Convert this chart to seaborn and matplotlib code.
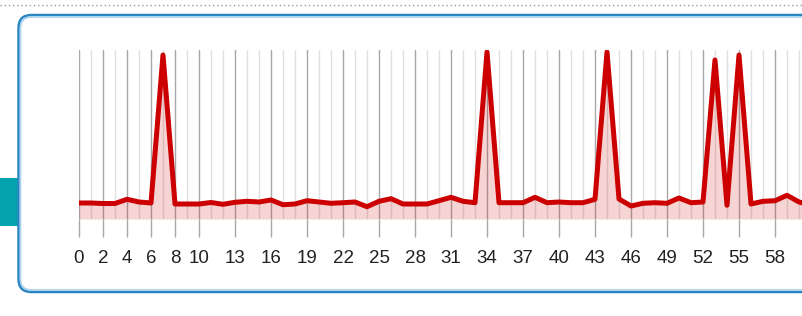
import matplotlib
matplotlib.use("Agg")
import matplotlib.pyplot as plt
from matplotlib.patches import FancyBboxPatch, Rectangle
from matplotlib.lines import Line2D
import seaborn as sns
import pandas as pd

# ---- data ----
x_index = list(range(62))
values = [16, 16, 15.5, 15.5, 19.7, 17, 16, 164, 15, 15,
          15, 16.5, 14.7, 16.7, 17.7, 17, 19, 14.3, 15, 18.3,
          17, 15.7, 16.3, 17, 12.3, 17.7, 20.3, 15, 15, 15,
          18.3, 21.7, 17.7, 16.3, 167, 16.3, 16.3, 16.3, 21.7, 16.3,
          17, 16.3, 16.3, 19.7, 167, 20, 13, 15.7, 16.3, 15.7,
          21, 16.3, 17, 159, 13.7, 164, 15, 17.7, 18.3, 23.7,
          17, 14]
tick_values = [0, 2, 4, 6, 8, 10, 13, 16, 19, 22, 25, 28, 31, 34, 37, 40,
               43, 46, 49, 52, 55, 58, 61]
tick_labels = [str(t) for t in tick_values]

df = pd.DataFrame({"x": x_index, "y": values})

sns.set_style("white")
plt.rcParams["font.family"] = ["Liberation Sans", "DejaVu Sans"]

W, H = 803, 316
fig = plt.figure(figsize=(W / 100, H / 100), dpi=100)

# axes placement: x=0 at 79px, 12px per unit; y=0 at 219px, top at 50px
x0_px, step = 79, 12.0
xmax = 62
left = x0_px / W
width = (step * xmax) / W
bottom = (H - 219) / H
height = (219 - 50) / H
ax = fig.add_axes([left, bottom, width, height])
ax.set_facecolor("none")
ax.set_zorder(2)

sns.lineplot(data=df, x="x", y="y", ax=ax, color="#cc0000", linewidth=3.6,
             solid_joinstyle="round", zorder=3)
ax.fill_between(df["x"], df["y"], 0, color="#cc0000", alpha=0.17,
                linewidth=0, zorder=2)

ax.set_xlim(0, xmax)
ax.set_ylim(0, 169)

ax.set_xticks(tick_values)
ax.set_xticklabels(tick_labels)
ax.set_xticks([i for i in x_index if i not in tick_values], minor=True)
ax.set_yticks([])
ax.grid(which="major", axis="x", color="#a8a8a8", linewidth=1.0)
ax.grid(which="minor", axis="x", color="#e0e0e0", linewidth=1.0)
ax.set_axisbelow(True)
ax.tick_params(axis="x", which="major", bottom=True, length=13, width=1.0,
               color="#a8a8a8", labelsize=13.5, labelcolor="#222222", pad=9.5,
               direction="out")
ax.tick_params(axis="x", which="minor", bottom=False, length=0)
for s in ax.spines.values():
    s.set_visible(False)
ax.set_xlabel("")
ax.set_ylabel("")

# ---- decorations in pixel units (inches) ----
T = fig.dpi_scale_trans
def py(y):
    return (H - y) / 100.0

# dotted top line
fig.add_artist(Line2D([0, W / 100], [py(4.5), py(4.5)], transform=T,
                      color="#9a9a9a", linewidth=1.0, linestyle=(0, (1, 2)),
                      zorder=0))
# teal tab on the left
fig.add_artist(Rectangle((0, py(226)), 0.175, (226 - 178) / 100, transform=T,
                         facecolor="#04a3ad", edgecolor="none", zorder=0))
# rounded box
box_outer = FancyBboxPatch((0.185, py(292)), 8.5, (292 - 15) / 100,
                           boxstyle="round,pad=0,rounding_size=0.13",
                           transform=T, facecolor="white",
                           edgecolor="#2a86c2", linewidth=1.8, zorder=0)
fig.add_artist(box_outer)
box_inner = FancyBboxPatch((0.205, py(290)), 8.5, (290 - 17) / 100,
                           boxstyle="round,pad=0,rounding_size=0.11",
                           transform=T, facecolor="none",
                           edgecolor="#a9d2ee", linewidth=1.2, zorder=0)
fig.add_artist(box_inner)

fig.savefig("out.png", dpi=100)
